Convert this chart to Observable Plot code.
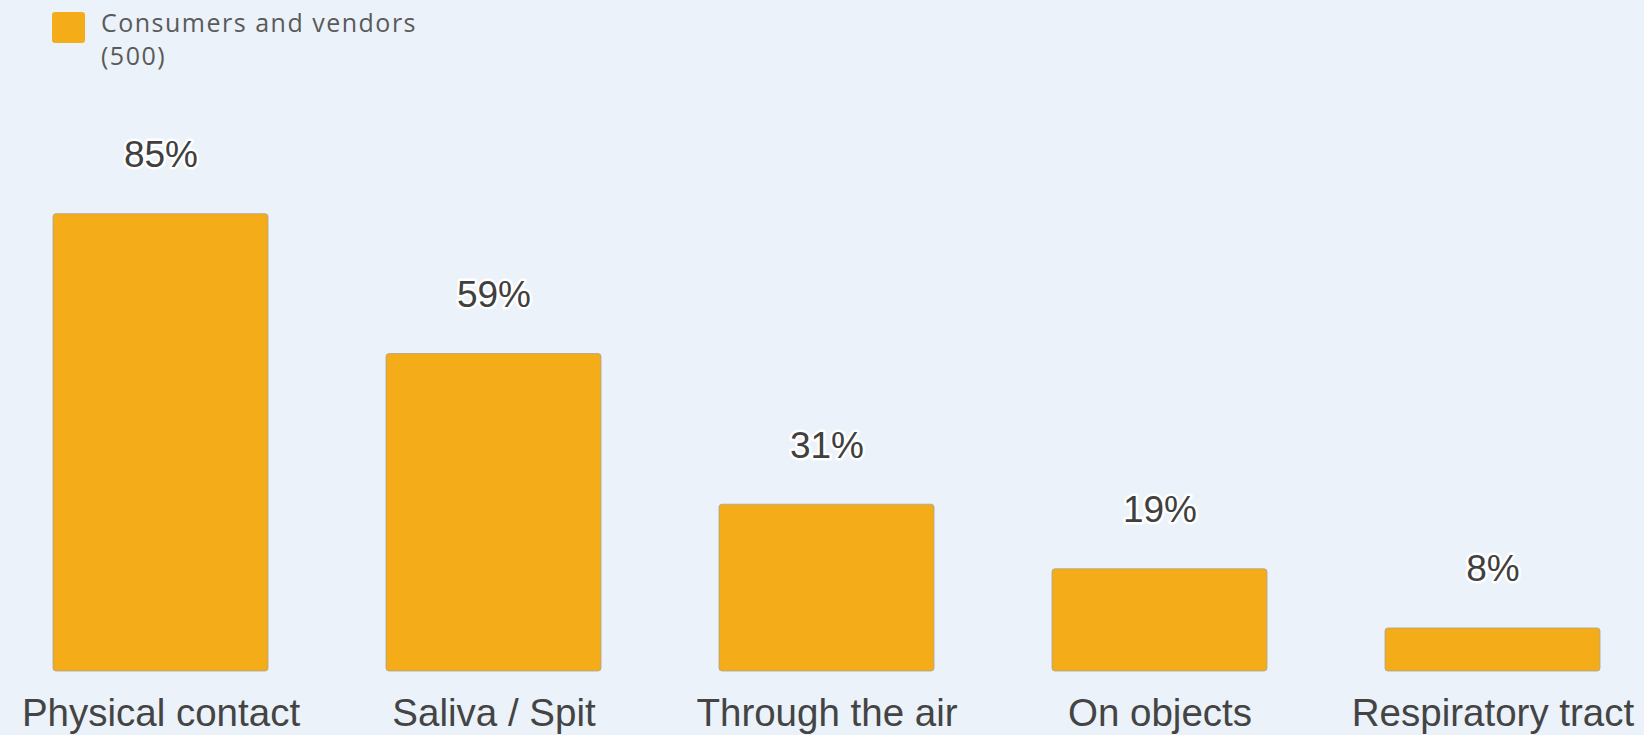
<!DOCTYPE html>
<html>
<head>
<meta charset="utf-8">
<script src="https://cdn.jsdelivr.net/npm/d3@7"></script>
<script src="https://cdn.jsdelivr.net/npm/@observablehq/plot@0.6"></script>
<style>
  html, body { margin: 0; padding: 0; background: #EBF2F9; }
  body { width: 1644px; height: 735px; overflow: hidden; }
  #legend { position: relative; height: 72px; }
  #legend .sw { position: absolute; left: 52px; top: 12px; width: 33px; height: 31px; border-radius: 3px; background: #F4AC18; }
  #legend .lb { position: absolute; left: 101px; font-family: "Open Sans", sans-serif; font-weight: 400; font-size: 25px; line-height: 25px; color: #5a5a5a; letter-spacing: 1.5px; white-space: nowrap; }
</style>
</head>
<body>
<div id="legend"></div>
<div id="chart"></div>
<script>
const categories = ["Physical contact", "Saliva / Spit", "Through the air", "On objects", "Respiratory tract"];
const values = [85, 59, 31, 19, 8];
const seriesName = "Consumers and vendors";
const seriesCount = "(500)";
const barColor = "#F4AC18";

const data = categories.map((c, i) => ({category: c, value: values[i]}));

const legend = document.getElementById("legend");
legend.innerHTML = `<div class="sw"></div><div class="lb" style="top:10px">${seriesName}</div><div class="lb" style="top:43px">${seriesCount}</div>`;

const plot = Plot.plot({
  width: 1644,
  height: 663,
  marginTop: 61,
  marginBottom: 64,
  marginLeft: 51,
  marginRight: 41,
  style: {background: "transparent", fontFamily: "'Liberation Sans', Arial, sans-serif"},
  x: {domain: categories, paddingInner: 0.353, paddingOuter: 0, label: null},
  y: {domain: [0, 100], axis: null},
  marks: [
    Plot.barY(data, {x: "category", y: "value", fill: barColor, stroke: "#a8a39a", strokeWidth: 0.8, rx: 3}),
    Plot.text(data, {x: "category", y: "value", text: d => d.value + "%", dy: -47, lineAnchor: "bottom",
      fontSize: 37, fill: "#404040", stroke: "white", strokeWidth: 5, strokeLinejoin: "round"}),
    Plot.axisX({tickSize: 0, tickPadding: 27, fontSize: 38.5, color: "#444", label: null})
  ]
});
document.getElementById("chart").appendChild(plot);
</script>
</body>
</html>
